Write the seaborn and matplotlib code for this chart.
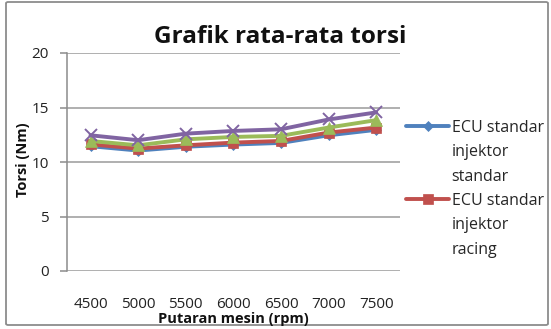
import matplotlib
matplotlib.use("Agg")
import matplotlib.pyplot as plt
import seaborn as sns
import pandas as pd
from matplotlib.patches import FancyBboxPatch
from matplotlib.lines import Line2D

rpm = ["4500", "5000", "5500", "6000", "6500", "7000", "7500"]
ecu_std_inj_std = [11.45, 11.05, 11.4, 11.6, 11.75, 12.45, 12.95]
ecu_std_inj_racing = [11.62, 11.23, 11.53, 11.78, 11.93, 12.7, 13.16]
ecu_racing_inj_std = [11.93, 11.53, 12.08, 12.3, 12.4, 13.16, 13.84]
ecu_racing_inj_racing = [12.45, 12.0, 12.6, 12.85, 13.0, 13.9, 14.55]

series_names = ["ECU standar\ninjektor\nstandar", "ECU standar\ninjektor\nracing",
                "ECU racing\ninjektor\nstandar", "ECU racing\ninjektor\nracing"]
series_vals = [ecu_std_inj_std, ecu_std_inj_racing, ecu_racing_inj_std, ecu_racing_inj_racing]
colors = ["#4F81BD", "#C0504D", "#9BBB59", "#8064A2"]
markers = ["D", "s", "^", "x"]
msizes = [5, 7, 8, 8]

sns.set_style("white")
plt.rcParams['font.family'] = ['Open Sans', 'DejaVu Sans']

W, H = 551, 329
fig = plt.figure(figsize=(W / 100, H / 100), dpi=100)
ax = fig.add_axes([66.7 / W, 1 - 271 / H, (400 - 66.7) / W, (271 - 53) / H])

# outer chart border
fig.patches.append(FancyBboxPatch((6 / W, 4 / H), 542 / W, 323 / H,
                                  boxstyle="round,pad=0,rounding_size=0.004",
                                  transform=fig.transFigure, fill=False,
                                  edgecolor="#8c8c8c", linewidth=1.3))

for name, vals, c, m, ms in zip(series_names, series_vals, colors, markers, msizes):
    df = pd.DataFrame({"x": range(len(rpm)), "y": vals})
    sns.lineplot(data=df, x="x", y="y", ax=ax, color=c, linewidth=2.8,
                 marker=m, markersize=ms, markeredgecolor=c,
                 markeredgewidth=1.4 if m == "x" else 0.5, label=name)

ax.set_xlim(-0.5, len(rpm) - 0.5)
ax.set_ylim(0, 20)
ax.set_yticks([0, 5, 10, 15, 20])
ax.set_xticks(range(len(rpm)))
ax.set_xticklabels(rpm)
ax.grid(axis="y", color="#9a9a9a", linewidth=1.1)
ax.grid(axis="x", visible=False)
ax.set_axisbelow(True)
for s in ["top", "right", "bottom"]:
    ax.spines[s].set_visible(False)
ax.spines["left"].set_color("#8c8c8c")
ax.spines["left"].set_linewidth(1.1)
ax.tick_params(axis="y", which="both", left=True, length=5, width=1.1,
               color="#8c8c8c", pad=8, labelsize=11, labelcolor="#222222")
ax.tick_params(axis="x", which="both", bottom=False, length=0, pad=19,
               labelsize=11, labelcolor="#222222")
ax.set_xlabel("")
ax.set_ylabel("")

fig.text(233.5 / W, 1 - 319 / H, "Putaran mesin (rpm)", ha="center", va="center",
         fontsize=10.5, fontweight="bold", color="#111111")
fig.text(23 / W, 1 - 160 / H, "Torsi (Nm)", ha="center", va="center", rotation=90,
         fontsize=10.5, fontweight="bold", color="#111111")
fig.text(280 / W, 1 - 37 / H, "Grafik rata-rata torsi", ha="center", va="center",
         fontsize=17.5, fontweight="bold", color="#111111")

# legend: first two series, each label split into lines with the marker on the first line
h, l = ax.get_legend_handles_labels()
ax.get_legend().remove()
leg_handles, leg_labels = [], []
for hd, lb in zip(h[:2], l[:2]):
    parts = lb.split("\n")
    leg_handles.append(hd)
    leg_labels.append(parts[0])
    for p in parts[1:]:
        leg_handles.append(Line2D([], [], color="none"))
        leg_labels.append(p)
fig.legend(leg_handles, leg_labels, loc="upper left", bbox_to_anchor=(406 / W, 1 - 120 / H),
           frameon=False, fontsize=11.5, handlelength=2.7, handletextpad=0.15,
           labelspacing=0.52, borderaxespad=0, borderpad=0)

fig.savefig("out.png", dpi=100)
